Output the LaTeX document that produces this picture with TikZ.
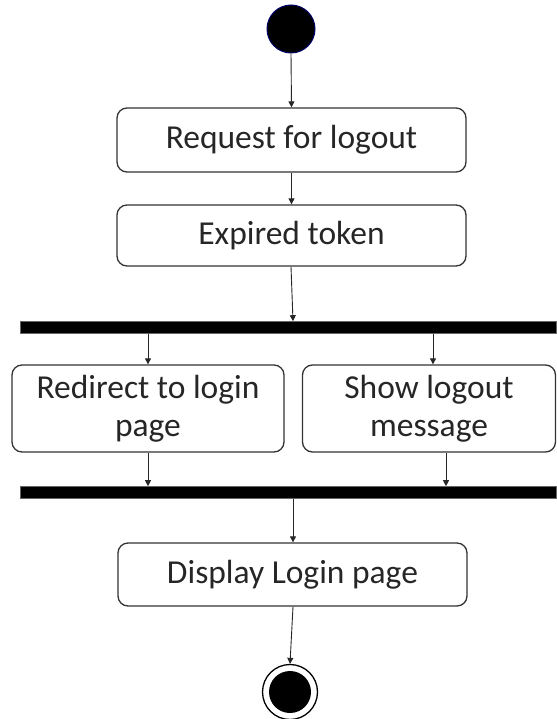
\documentclass[tikz,border=0pt]{standalone}
\usepackage{fontspec}
\setmainfont{Carlito}
\usetikzlibrary{calc, positioning, arrows.meta}

\begin{document}
\begin{tikzpicture}[
    x=1pt, y=-1pt,
    >={Triangle[length=6pt, width=6pt]},
    font=\fontsize{33.5}{38}\selectfont
]

    % Styles for the activity diagram
    \tikzset{
        action/.style={
            draw=black!80,
            line width=1.3pt,
            rounded corners=10pt,
            text=black!85,
            align=center,
            inner sep=0pt
        },
        bar/.style={
            draw=black!60,
            fill=black,
            line width=0.6pt,
            inner sep=0pt,
            minimum height=12pt
        },
        flow/.style={->, line width=0.9pt, draw=black!85}
    }

    % Page frame
    \useasboundingbox (0,0) rectangle (556,719);

    % Initial node
    \node[circle, fill=black, draw=blue!40!black, line width=1pt,
          minimum size=48pt, inner sep=0pt] (start) at (291,29) {};

    % Sequential actions
    \node[action, minimum width=349pt, minimum height=64pt] (req) at (291.5,140) {Request for logout};
    \node[action, minimum width=349pt, minimum height=61pt] (expired) at (291.5,235.5) {Expired token};

    % Fork bar
    \node[bar, minimum width=536pt] (fork) at (288,327.5) {};

    % Parallel actions
    \node[action, minimum width=272pt, minimum height=87pt] (redirect) at (148,408.5) {Redirect to login\\page};
    \node[action, minimum width=253pt, minimum height=87pt] (showmsg) at (429,408.5) {Show logout\\message};

    % Join bar
    \node[bar, minimum width=536pt] (join) at (288,492.5) {};

    % Final action
    \node[action, minimum width=349pt, minimum height=63pt] (display) at (292.5,574.5) {Display Login page};

    % Final node
    \node[circle, draw=black, line width=1.3pt, minimum size=55pt, inner sep=0pt] (stop) at (290,692) {};
    \fill (stop.center) circle (21pt);

    % Control flow
    \draw[flow] (start.south) -- (req.north);
    \draw[flow] (req.south) -- (expired.north);
    \draw[flow] ($(expired.south)+(-0.5,0)$) -- (fork.north -| 293,0);

    \draw[flow] (fork.south -| redirect.north) -- (redirect.north);
    \coordinate (showIn) at ($(showmsg.north)+(4,0)$);
    \draw[flow] (fork.south -| showIn) -- (showIn);

    \draw[flow] (redirect.south) -- (join.north -| redirect.south);
    \coordinate (showOut) at ($(showmsg.south)+(17,0)$);
    \draw[flow] (showOut) -- (join.north -| showOut);

    \draw[flow] (join.south -| 293,0) -- (display.north -| 293,0);
    \draw[flow] ($(display.south)+(0.5,0)$) -- (stop.north);

\end{tikzpicture}
\end{document}
